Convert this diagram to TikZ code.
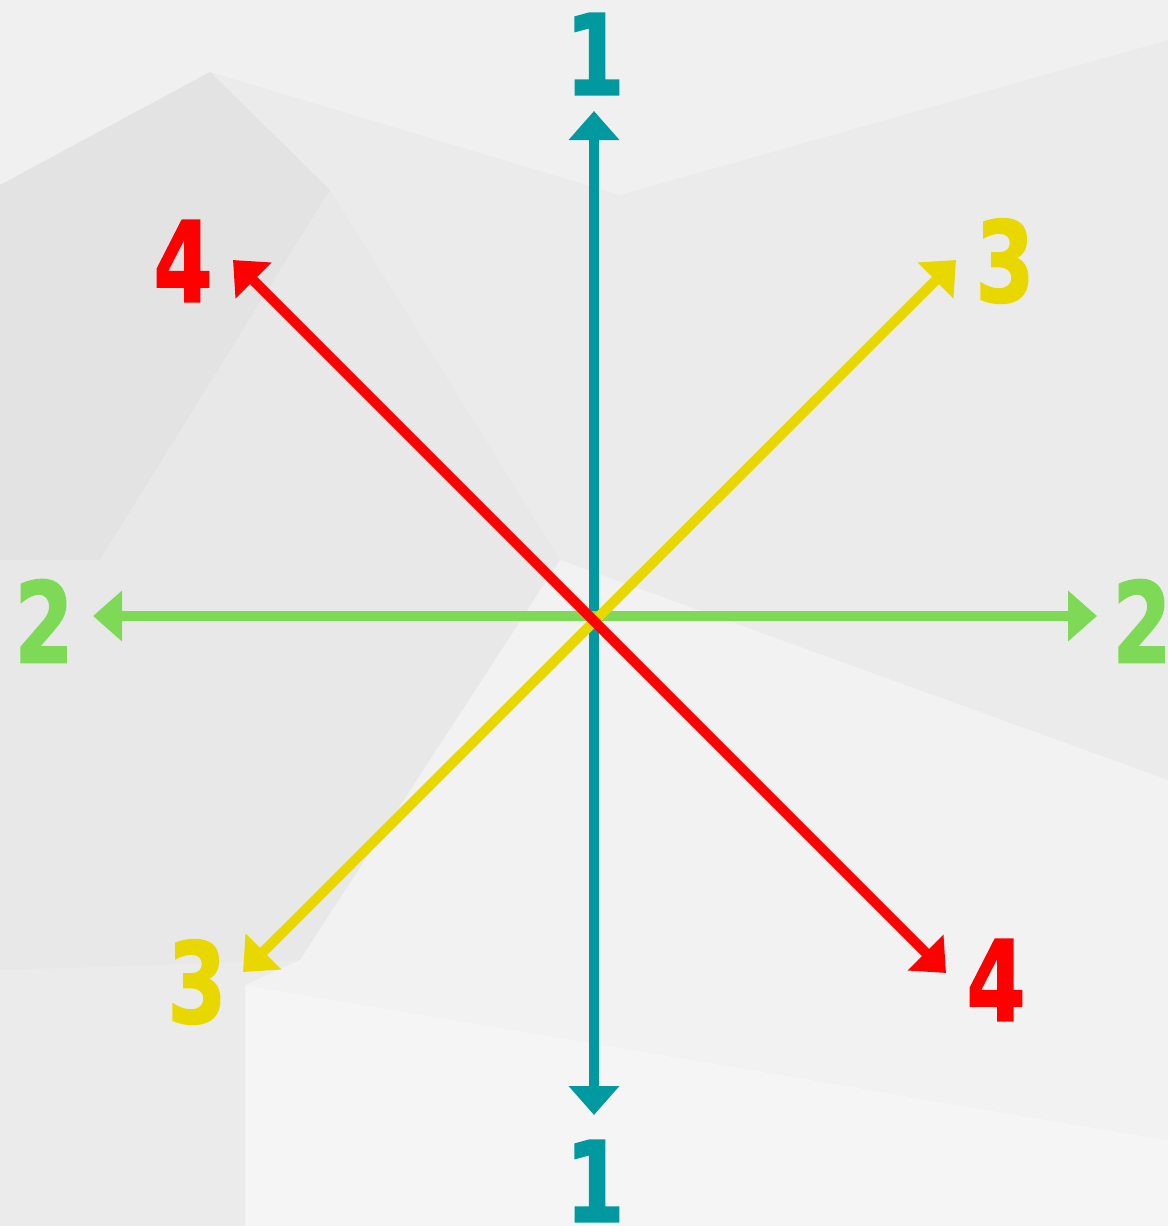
\documentclass[tikz,border=0pt]{standalone}
\usepackage{fontspec}
\setmainfont{DejaVu Sans}
\newfontfamily\digfont{DejaVu Sans Bold}[FakeBold=1.5]
\usetikzlibrary{arrows.meta}
\definecolor{cteal}{HTML}{00999F}
\definecolor{cgreen}{HTML}{7ED957}
\definecolor{cyellow}{HTML}{E8D800}
\definecolor{cred}{HTML}{FF0000}
\tikzset{
  axis/.style={line width=10pt, {Triangle[width=49pt,length=29pt]}-{Triangle[width=49pt,length=29pt]}},
  digit/.style={inner sep=0pt, anchor=center, font=\digfont\fontsize{112}{112}\selectfont},
}
\newcommand{\dg}[1]{\scalebox{0.76}[1]{#1}}
\begin{document}
\begin{tikzpicture}[x=1pt,y=-1pt]
\useasboundingbox (0,0) rectangle (1168,1226);
% background
\fill[black!8] (0,0) rectangle (1168,1226);
\fill[black!6] (0,0) -- (1168,0) -- (1168,40) -- (620,195) -- (210,72) -- (0,185) -- cycle;
\fill[black!11] (0,185) -- (210,72) -- (330,190) -- (100,560) -- (0,560) -- cycle;
\fill[black!9] (0,560) -- (100,560) -- (330,190) -- (560,560) -- (300,960) -- (0,970) -- cycle;
\fill[black!5] (560,560) -- (1168,780) -- (1168,1140) -- (245,985) -- (300,960) -- cycle;
\fill[black!4] (245,985) -- (1168,1140) -- (1168,1226) -- (245,1226) -- cycle;
\fill[black!8] (0,970) -- (245,985) -- (245,1226) -- (0,1226) -- cycle;
% tips
\coordinate (t1) at (594,111);
\coordinate (b1) at (594,1115);
\coordinate (l2) at (93,616);
\coordinate (r2) at (1097,616);
\coordinate (tr3) at (956,260);
\coordinate (bl3) at (243,972);
\coordinate (tl4) at (233,260);
\coordinate (br4) at (946,973);
% arrows
\draw[axis, cteal] (b1) -- (t1);
\draw[axis, cgreen] (l2) -- (r2);
\draw[axis, cyellow] (bl3) -- (tr3);
\draw[axis, cred] (tl4) -- (br4);
% labels
\node[digit, text=cteal] (n1a) at (595,54) {\dg{1}};
\node[digit, text=cteal] (n1b) at (595,1181) {\dg{1}};
\node[digit, text=cgreen] (n2a) at (44,621) {\dg{2}};
\node[digit, text=cgreen] (n2b) at (1142,621) {\dg{2}};
\node[digit, text=cyellow] (n3a) at (1005,261) {\dg{3}};
\node[digit, text=cyellow] (n3b) at (197,982) {\dg{3}};
\node[digit, text=cred] (n4a) at (183,261) {\dg{4}};
\node[digit, text=cred] (n4b) at (996,980) {\dg{4}};
\end{tikzpicture}
\end{document}
